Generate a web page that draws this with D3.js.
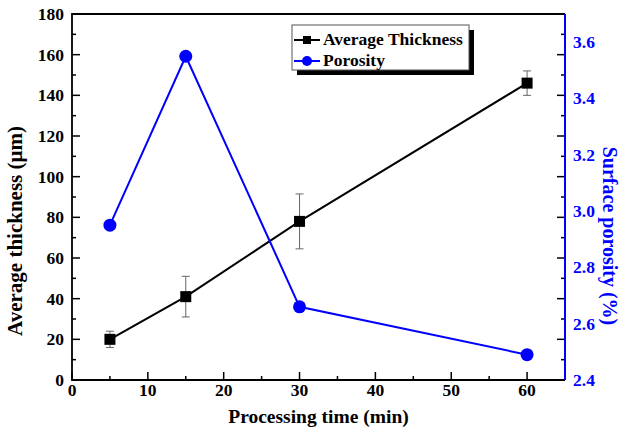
<!DOCTYPE html>
<html>
<head>
<meta charset="utf-8">
<script src="https://cdn.jsdelivr.net/npm/d3@7"></script>
<style>
  body { margin: 0; background: #fff; }
  svg text { font-family: "Liberation Serif", "Times New Roman", serif; font-weight: bold; }
</style>
</head>
<body>
<div id="container"></div>
<script>
/* CONSTANTS AND GLOBALS */
const width = 623;
const height = 435;
const margin = { top: 14, right: 58, bottom: 55, left: 72 };

/* DATA */
const times = [5, 15, 30, 60];
const thickness = [20, 41, 78, 146];
const thicknessErr = [4, 10, 13.5, 6];
const porosity = [2.95, 3.55, 2.66, 2.49];
const xTicks = [0, 10, 20, 30, 40, 50, 60];
const yLeftTicks = [0, 20, 40, 60, 80, 100, 120, 140, 160, 180];
const yRightTicks = [2.4, 2.6, 2.8, 3.0, 3.2, 3.4, 3.6];

const blue = "#0000ff";

/* SCALES */
const xScale = d3.scaleLinear()
  .domain([0, 65])
  .range([margin.left, width - margin.right]);

const yScale = d3.scaleLinear()
  .domain([0, 180])
  .range([height - margin.bottom, margin.top]);

const y2Scale = d3.scaleLinear()
  .domain([2.4, 3.7])
  .range([height - margin.bottom, margin.top]);

/* SVG */
const svg = d3.select("#container")
  .append("svg")
  .attr("width", width)
  .attr("height", height);

const x0 = margin.left, x1 = width - margin.right;
const yb = height - margin.bottom, yt = margin.top;

// frame (top + left + bottom black)
svg.append("path")
  .attr("d", `M${x1},${yt}H${x0}V${yb}H${x1}`)
  .attr("fill", "none")
  .attr("stroke", "#000")
  .attr("stroke-width", 1.8);

// x ticks (inside)
const xAll = d3.range(0, 65, 5);
svg.selectAll(".xt")
  .data(xAll)
  .join("line")
  .attr("x1", d => xScale(d)).attr("x2", d => xScale(d))
  .attr("y1", yb).attr("y2", d => d % 10 === 0 ? yb - 8 : yb - 4)
  .attr("stroke", "#000").attr("stroke-width", 1.5);

svg.selectAll(".xl")
  .data(xTicks)
  .join("text")
  .attr("x", d => xScale(d))
  .attr("y", yb + 16)
  .attr("text-anchor", "middle")
  .attr("font-size", 17.5)
  .text(d => d);

// left y ticks (inside) + mirrored on right
const yAll = d3.range(0, 181, 10);
svg.selectAll(".ytl")
  .data(yAll)
  .join("line")
  .attr("x1", x0).attr("x2", d => d % 20 === 0 ? x0 + 8 : x0 + 4)
  .attr("y1", d => yScale(d)).attr("y2", d => yScale(d))
  .attr("stroke", "#000").attr("stroke-width", 1.5);

svg.selectAll(".ytr")
  .data(yAll)
  .join("line")
  .attr("x1", x1).attr("x2", d => d % 20 === 0 ? x1 - 8 : x1 - 4)
  .attr("y1", d => yScale(d)).attr("y2", d => yScale(d))
  .attr("stroke", "#000").attr("stroke-width", 1.5);

svg.selectAll(".yl")
  .data(yLeftTicks)
  .join("text")
  .attr("x", x0 - 8)
  .attr("y", d => yScale(d) + 6)
  .attr("text-anchor", "end")
  .attr("font-size", 17.5)
  .text(d => d);

// right axis (blue)
svg.append("line")
  .attr("x1", x1).attr("x2", x1)
  .attr("y1", yt).attr("y2", yb)
  .attr("stroke", blue).attr("stroke-width", 2);

svg.selectAll(".y2l")
  .data(yRightTicks)
  .join("text")
  .attr("x", x1 + 8)
  .attr("y", d => y2Scale(d) + 6)
  .attr("fill", blue)
  .attr("font-size", 17.5)
  .text(d => d.toFixed(1));

// axis titles
svg.append("text")
  .attr("x", (x0 + x1) / 2)
  .attr("y", 423)
  .attr("text-anchor", "middle")
  .attr("font-size", 19.5)
  .text("Processing time (min)");

svg.append("text")
  .attr("transform", "translate(22,231) rotate(-90)")
  .attr("text-anchor", "middle")
  .attr("font-size", 21)
  .text("Average thickness (μm)");

svg.append("text")
  .attr("transform", "translate(603,236) rotate(90)")
  .attr("text-anchor", "middle")
  .attr("font-size", 20)
  .attr("fill", blue)
  .text("Surface porosity (%)");

/* THICKNESS SERIES */
const thickData = times.map((t, i) => ({ t, v: thickness[i], e: thicknessErr[i] }));

const errG = svg.append("g").attr("stroke", "#666").attr("stroke-width", 1);
errG.selectAll(".eb")
  .data(thickData)
  .join("line")
  .attr("x1", d => xScale(d.t)).attr("x2", d => xScale(d.t))
  .attr("y1", d => yScale(d.v - d.e)).attr("y2", d => yScale(d.v + d.e));
errG.selectAll(".ct")
  .data(thickData)
  .join("line")
  .attr("x1", d => xScale(d.t) - 4).attr("x2", d => xScale(d.t) + 4)
  .attr("y1", d => yScale(d.v + d.e)).attr("y2", d => yScale(d.v + d.e));
errG.selectAll(".cb")
  .data(thickData)
  .join("line")
  .attr("x1", d => xScale(d.t) - 4).attr("x2", d => xScale(d.t) + 4)
  .attr("y1", d => yScale(d.v - d.e)).attr("y2", d => yScale(d.v - d.e));

svg.append("path")
  .datum(thickData)
  .attr("d", d3.line().x(d => xScale(d.t)).y(d => yScale(d.v)))
  .attr("fill", "none")
  .attr("stroke", "#000")
  .attr("stroke-width", 2);

svg.selectAll(".sq")
  .data(thickData)
  .join("rect")
  .attr("x", d => xScale(d.t) - 5.5)
  .attr("y", d => yScale(d.v) - 5.5)
  .attr("width", 11).attr("height", 11)
  .attr("fill", "#000");

/* POROSITY SERIES */
const poroData = times.map((t, i) => ({ t, v: porosity[i] }));

svg.append("path")
  .datum(poroData)
  .attr("d", d3.line().x(d => xScale(d.t)).y(d => y2Scale(d.v)))
  .attr("fill", "none")
  .attr("stroke", blue)
  .attr("stroke-width", 2);

svg.selectAll(".ci")
  .data(poroData)
  .join("circle")
  .attr("cx", d => xScale(d.t))
  .attr("cy", d => y2Scale(d.v))
  .attr("r", 6.5)
  .attr("fill", blue);

/* LEGEND */
const lg = svg.append("g").attr("transform", "translate(292,25)");
lg.append("rect").attr("x", 5).attr("y", 5).attr("width", 177).attr("height", 45).attr("fill", "#000");
lg.append("rect").attr("x", 0).attr("y", 0).attr("width", 177).attr("height", 45)
  .attr("fill", "#fff").attr("stroke", "#555").attr("stroke-width", 1);

lg.append("line").attr("x1", 2).attr("x2", 28).attr("y1", 15).attr("y2", 15)
  .attr("stroke", "#000").attr("stroke-width", 2);
lg.append("rect").attr("x", 11).attr("y", 11).attr("width", 8).attr("height", 8).attr("fill", "#000");
lg.append("text").attr("x", 31).attr("y", 20).attr("font-size", 17.5).text("Average Thickness");

lg.append("line").attr("x1", 2).attr("x2", 28).attr("y1", 36).attr("y2", 36)
  .attr("stroke", blue).attr("stroke-width", 2);
lg.append("circle").attr("cx", 15).attr("cy", 36).attr("r", 5).attr("fill", blue);
lg.append("text").attr("x", 31).attr("y", 41).attr("font-size", 17.5).text("Porosity");
</script>
</body>
</html>
